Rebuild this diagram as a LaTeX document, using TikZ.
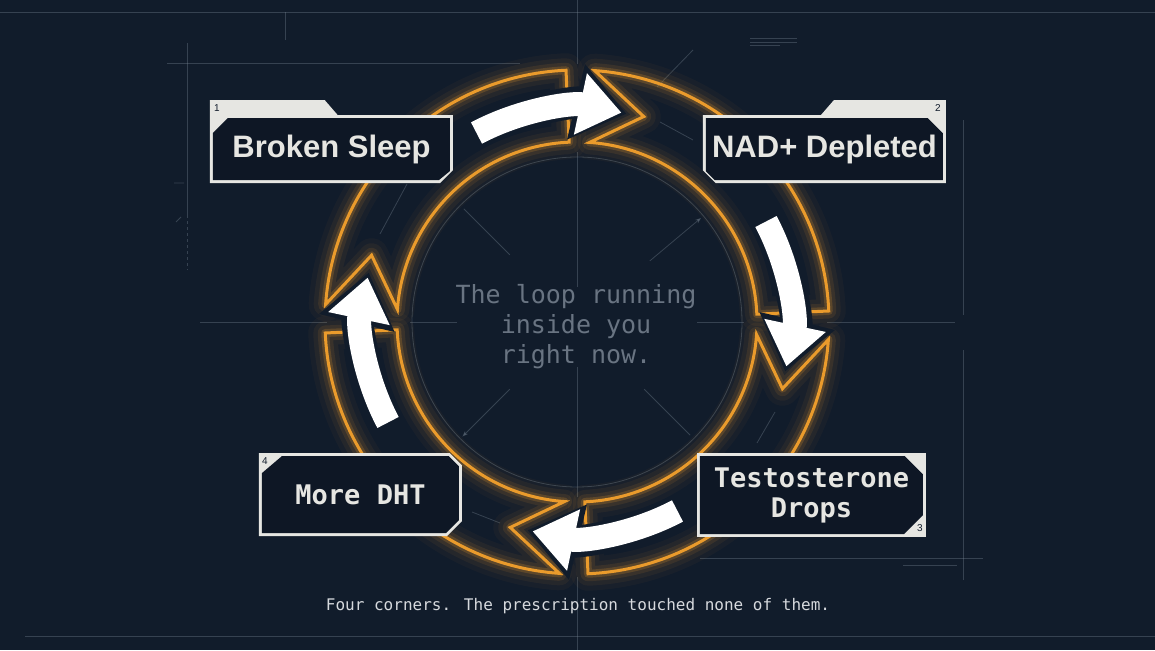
\documentclass[tikz,border=0pt]{standalone}
\usepackage{fontspec}
\usepackage{xcolor}
\usetikzlibrary{arrows.meta, calc, positioning}
\newfontfamily\cardsans{Liberation Sans}
\newfontfamily\cardmono{DejaVu Sans Mono}
\definecolor{loop-bg}{RGB}{17,28,43}
\definecolor{loop-plate}{RGB}{14,23,37}
\definecolor{loop-paper}{RGB}{230,230,226}
\definecolor{loop-orange}{RGB}{234,155,44}
\definecolor{loop-grid}{RGB}{125,138,152}
\definecolor{loop-note}{RGB}{105,116,130}
\definecolor{loop-caption}{RGB}{214,217,221}
\pgfdeclarelayer{back}
\pgfdeclarelayer{plates}
\pgfsetlayers{back,plates,main}
\newcommand{\ringseg}[1]{(#1-4:252) arc[start angle=#1-4, end angle=#1-87.5, radius=252]
  -- (#1-87.5:180) arc[start angle=#1-87.5, end angle=#1-4, radius=180] -- (#1-18:216) -- cycle}

\begin{document}
\begin{tikzpicture}[
  x=1pt, y=1pt,
  plate/.style 2 args={minimum width=#1, minimum height=#2, inner sep=0pt, text=loop-paper, align=center},
  boldplate/.style={font=\cardsans\bfseries\fontsize{31}{34}\selectfont},
  monoplate/.style={font=\cardmono\bfseries\fontsize{27}{30}\selectfont},
  tag/.style={font=\cardsans\fontsize{10}{10}\selectfont, text=loop-bg, inner sep=0pt},
  grid/.style={draw=loop-grid, line width=0.8pt, opacity=0.35},
  ring/.style={draw=loop-orange, line width=3pt, line join=miter},
  glow/.style={draw=loop-orange, line width=#1, line join=round},
  flow/.style={draw=white, line width=24pt, -{Triangle[length=42pt, width=60pt]}},
  flowshade/.style={draw=loop-bg, line width=32pt, -{Triangle[length=52pt, width=74pt]}},
]
  \useasboundingbox (0,0) rectangle (1155,650);
  \coordinate (hub) at (577,328);

  \node[plate={243}{68}, boldplate] (sleep) at (331.5,501) {Broken Sleep};
  \node[plate={243}{68}, boldplate] (nad) at (824.5,501) {NAD+ Depleted};
  \node[plate={229}{84}, monoplate] (testo) at (811.5,155) {Testosterone\\Drops};
  \node[plate={203}{83}, monoplate] (dht) at (360.5,155.5) {More DHT};
  \node[font=\cardmono\fontsize{25}{30}\selectfont, text=loop-note, align=center] (note) at (576,323) {The loop running\\inside you\\right now.};
  \node[font=\cardmono\fontsize{16}{18}\selectfont, text=loop-caption] (caption) at (578,44) {Four corners. The prescription touched none of them.};

  \begin{pgfonlayer}{back}
    \fill[loop-bg] (0,0) rectangle (1155,650);
    % frame lines
    \draw[grid] (0,638) -- (1155,638);
    \draw[grid] (25,14) -- (1155,14);
    \draw[grid] (285,638) -- (285,610);
    \draw[grid] (167,587) -- (520,587);
    \draw[grid] (187,607) -- (187,435);
    \draw[grid, dashed] (187,435) -- (187,380);
    \draw[grid] (174,467) -- (184,467) (176,428) -- (181,433);
    \draw[grid] (963,530) -- (963,335) (963,300) -- (963,70);
    \draw[grid] (700,92) -- (983,92);
    \draw[grid] (903,85) -- (957,85);
    \draw[grid] (750,612) -- (797,612) (750,608) -- (797,608) (750,605) -- (780,605);
    \begin{scope}[shift={(hub)}]
      \draw[grid] (0,322) -- (0,258) (0,170) -- (0,35) (0,-45) -- (0,-175) (0,-255) -- (0,-328);
      \draw[grid] (-377,0) -- (-250,0) (-167,0) -- (-120,0) (120,0) -- (167,0) (250,0) -- (378,0);
      \draw[grid] (0,0) circle[radius=165];
      \draw[grid, -{Stealth[length=6pt]}] (40:95) -- (40:162);
      \draw[grid, -{Stealth[length=6pt]}] (225:95) -- (225:162);
      \draw[grid] (135:95) -- (135:160) (315:95) -- (315:160);
      \draw[grid] (80,235) -- (116,272) (83,200) -- (116,182) (-197,88) -- (-170,138)
        (-105,-190) -- (-77,-201) (180,-121) -- (198,-90);
    \end{scope}
    % loop ring
    \begin{scope}[shift={(hub)}]
      \foreach \brk in {90,0,-90,180} {
        \foreach \w/\o in {34/0.04,24/0.06,15/0.1,8/0.2}
          \draw[glow=\w pt, opacity=\o] \ringseg{\brk};
        \draw[ring] \ringseg{\brk};
      }
      \foreach \brk in {90,0,-90,180}
        \draw[flowshade] (\brk+28.5:214) arc[start angle=\brk+28.5, end angle=\brk-13.4, radius=214];
      \foreach \brk in {90,0,-90,180}
        \draw[flow] (\brk+28:214) arc[start angle=\brk+28, end angle=\brk-12, radius=214];
    \end{scope}
  \end{pgfonlayer}

  \begin{pgfonlayer}{plates}
    \begin{scope}[shift={(sleep.south west)}]
      \fill[loop-paper] (0,0) -- (0,83) -- (115,83) -- (128,68) -- (243,68) -- (243,13) -- (230,0) -- cycle;
      \fill[loop-plate] (3,3) -- (3,50) -- (18,65) -- (240,65) -- (240,12) -- (229,3) -- cycle;
      \node[tag] (num1) at (7,75) {1};
    \end{scope}
    \begin{scope}[shift={(nad.south west)}]
      \fill[loop-paper] (0,13) -- (0,68) -- (118,68) -- (131,83) -- (243,83) -- (243,0) -- (13,0) -- cycle;
      \fill[loop-plate] (3,12) -- (3,65) -- (225,65) -- (240,50) -- (240,3) -- (12,3) -- cycle;
      \node[tag] (num2) at (235,75) {2};
    \end{scope}
    \begin{scope}[shift={(testo.south west)}]
      \fill[loop-paper] (0,0) rectangle (229,84);
      \fill[loop-plate] (3,3) -- (3,81) -- (208,81) -- (226,63) -- (226,22) -- (207,3) -- cycle;
      \node[tag] (num3) at (223,9) {3};
    \end{scope}
    \begin{scope}[shift={(dht.south west)}]
      \fill[loop-paper] (0,0) -- (0,83) -- (191,83) -- (203,71) -- (203,15) -- (188,0) -- cycle;
      \fill[loop-plate] (3,3) -- (3,63) -- (23,80) -- (190,80) -- (200,70) -- (200,16) -- (187,3) -- cycle;
      \node[tag] (num4) at (6,75) {4};
    \end{scope}
  \end{pgfonlayer}
\end{tikzpicture}
\end{document}
